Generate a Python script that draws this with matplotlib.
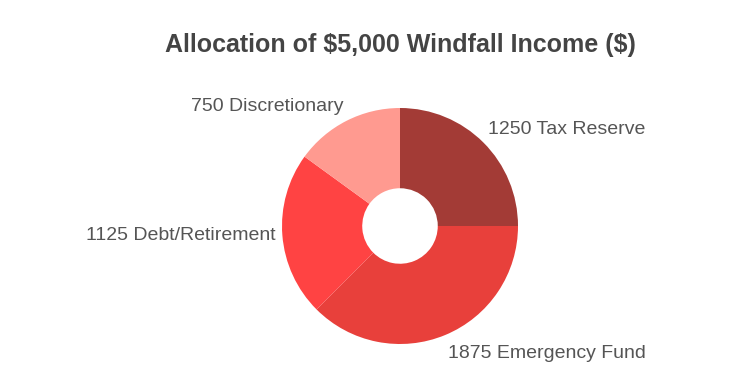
import matplotlib
matplotlib.use("Agg")
import matplotlib.pyplot as plt
import numpy as np

categories = ["Tax Reserve", "Emergency Fund", "Debt/Retirement", "Discretionary"]
values = [1250, 1875, 1125, 750]
colors = ["#A33B36", "#E8403B", "#FF4343", "#FF9A90"]
title = r"Allocation of \$5,000 Windfall Income (\$)"

plt.rcParams['font.family'] = ['Liberation Sans', 'DejaVu Sans']

W, H = 750, 375
fig = plt.figure(figsize=(W / 100, H / 100), dpi=100)
ax = fig.add_axes([0, 0, 1, 1])

cx, cy, R = 400, H - 226, 118
hole = 0.32
ax.pie(values, colors=colors, startangle=90, counterclock=False,
       center=(cx, cy), radius=R, frame=True,
       wedgeprops=dict(width=R * (1 - hole), linewidth=0))
ax.set_xlim(0, W)
ax.set_ylim(0, H)
ax.set_aspect('equal')
ax.axis('off')

total = sum(values)
cum = 0
for cat, v in zip(categories, values):
    mid = (cum + v / 2) / total * 2 * np.pi
    cum += v
    dx, dy = np.sin(mid), np.cos(mid)
    x = cx + dx * R * 1.06
    y = cy + dy * R * 1.06
    ha = 'left' if dx > 0.05 else ('right' if dx < -0.05 else 'center')
    if abs(dy) < 0.3:
        va = 'center'
    else:
        va = 'bottom' if dy > 0 else 'top'
    if dy < -0.3:
        y -= 3
    ax.text(x, y, f"{v} {cat}", ha=ha, va=va, fontsize=14, color="#555555")

ax.text(400, H - 45, title, ha='center', va='center', fontsize=18,
        fontweight='bold', color="#444444")

fig.savefig("out.png", dpi=100)
